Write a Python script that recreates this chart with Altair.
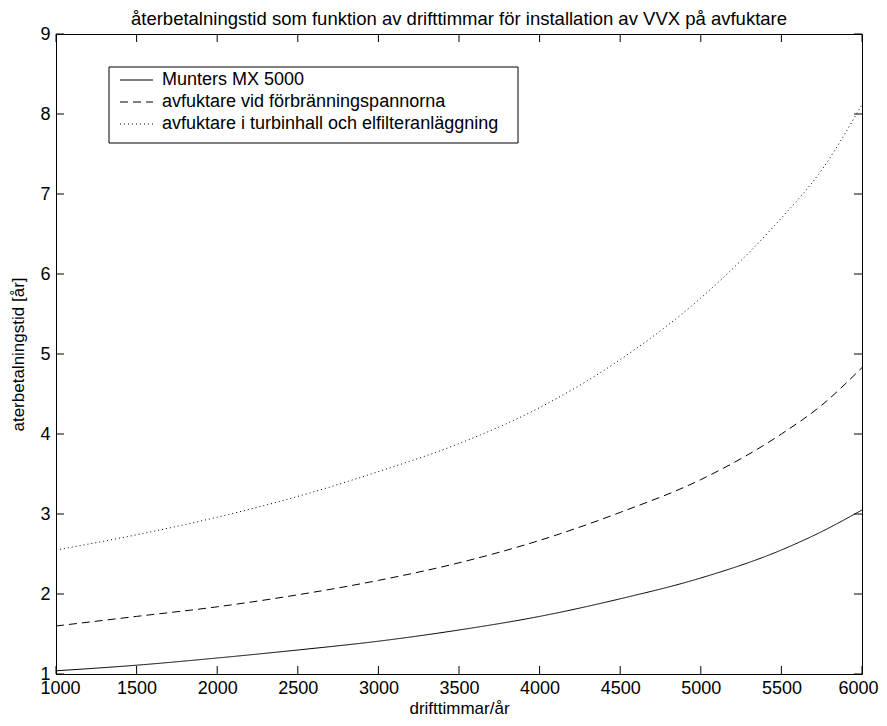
import altair as alt
import pandas as pd

# ---- data ----
hours = [1000, 1500, 2000, 2500, 3000, 3500, 4000, 4500, 5000, 5500, 5750, 6000]
munters = [1.04, 1.11, 1.20, 1.30, 1.41, 1.55, 1.72, 1.94, 2.20, 2.55, 2.78, 3.05]
pannor = [1.60, 1.72, 1.84, 1.99, 2.17, 2.39, 2.67, 3.02, 3.43, 4.00, 4.36, 4.83]
turbin = [2.55, 2.74, 2.96, 3.22, 3.53, 3.88, 4.33, 4.93, 5.70, 6.70, 7.30, 8.12]
series_names = [
    "Munters MX 5000",
    "avfuktare vid förbränningspannorna",
    "avfuktare i turbinhall och elfilteranläggning",
]
x_ticks = [1000, 1500, 2000, 2500, 3000, 3500, 4000, 4500, 5000, 5500, 6000]
y_ticks = [1, 2, 3, 4, 5, 6, 7, 8, 9]

title_text = "återbetalningstid som funktion av drifttimmar för installation av VVX på avfuktare"
x_title = "drifttimmar/år"
y_title = "aterbetalningstid [år]"

# ---- styling ----
FONT = "Liberation Sans"
W, H = 806, 640
TICK = 8
dashes = [[1, 0], [8, 5], [1, 3]]

rows = []
for name, vals in zip(series_names, [munters, pannor, turbin]):
    for h, v in zip(hours, vals):
        rows.append({"h": h, "t": v, "serie": name})
df = pd.DataFrame(rows)

xscale = alt.Scale(domain=[1000, 6000], nice=False, zero=False)
yscale = alt.Scale(domain=[1, 9], nice=False, zero=False)
x_axis = alt.Axis(values=x_ticks, format="d", title=x_title, labelPadding=5,
                  titlePadding=3, labelFlush=True, labelFlushOffset=16, labelOverlap=False)
y_axis = alt.Axis(values=y_ticks, format="d", title=y_title, labelPadding=6,
                  titlePadding=12, labelFlush=False, labelOverlap=False)

lines = alt.Chart(df).mark_line(color="black", strokeWidth=1, interpolate="monotone").encode(
    x=alt.X("h:Q", scale=xscale, axis=x_axis),
    y=alt.Y("t:Q", scale=yscale, axis=y_axis),
    strokeDash=alt.StrokeDash("serie:N", scale=alt.Scale(domain=series_names, range=dashes),
                              legend=None),
)

xt = pd.DataFrame({"h": x_ticks})
yt = pd.DataFrame({"t": y_ticks})
bottom_ticks = alt.Chart(xt).mark_rule(color="black", strokeWidth=1).encode(
    x=alt.X("h:Q", scale=xscale, axis=x_axis), y=alt.value(H), y2=alt.value(H - TICK))
top_ticks = alt.Chart(xt).mark_rule(color="black", strokeWidth=1).encode(
    x=alt.X("h:Q", scale=xscale, axis=x_axis), y=alt.value(0), y2=alt.value(TICK))
left_ticks = alt.Chart(yt).mark_rule(color="black", strokeWidth=1).encode(
    y=alt.Y("t:Q", scale=yscale, axis=y_axis), x=alt.value(0), x2=alt.value(TICK))
right_ticks = alt.Chart(yt).mark_rule(color="black", strokeWidth=1).encode(
    y=alt.Y("t:Q", scale=yscale, axis=y_axis), x=alt.value(W - TICK), x2=alt.value(W))

one = pd.DataFrame({"k": [0]})
legend_box = alt.Chart(one).mark_rect(fill="white", stroke="black", strokeWidth=1).encode(
    x=alt.value(53), x2=alt.value(462), y=alt.value(33), y2=alt.value(109))
legend_layers = [legend_box]
for i, (name, dash) in enumerate(zip(series_names, dashes)):
    yy = 46 + 22 * i
    legend_layers.append(
        alt.Chart(one).mark_rule(color="black", strokeWidth=1, strokeDash=dash).encode(
            x=alt.value(64), x2=alt.value(97), y=alt.value(yy)))
    legend_layers.append(
        alt.Chart(one).mark_text(text=name, align="left", baseline="middle",
                                 font=FONT, fontSize=18, color="black").encode(
            x=alt.value(106), y=alt.value(yy)))

chart = alt.layer(
    lines, bottom_ticks, top_ticks, left_ticks, right_ticks, *legend_layers
).properties(
    width=W, height=H,
    title=alt.TitleParams(title_text, font=FONT, fontSize=18.5, fontWeight="normal",
                          anchor="middle", color="black", offset=7, dy=10),
    autosize=alt.AutoSizeParams(type="none"),
    padding={"left": 48, "top": 26, "right": 17, "bottom": 44},
).configure_view(
    stroke="black", strokeWidth=1
).configure_axis(
    domain=False, ticks=False, grid=False,
    labelFont=FONT, labelFontSize=18, labelColor="black",
    titleFont=FONT, titleFontSize=17, titleFontWeight="normal", titleColor="black",
)

chart.save("out.html", embed_options={"renderer": "svg", "actions": False})
